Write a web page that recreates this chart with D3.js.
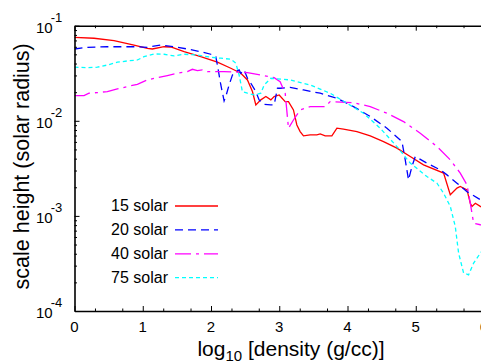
<!DOCTYPE html>
<html lang="en">
<head>
    <meta charset="utf-8">
    <script src="https://d3js.org/d3.v7.min.js"></script>
    <style>
        body { margin: 0; background: white; }
        text { font-family: "Liberation Sans", Arial, sans-serif; fill: black; }
        .axis path, .axis line { stroke: black; }
        .axis path { stroke-width: 1.6px; }
        .curve { fill: none; stroke-width: 1.3px; }
    </style>
</head>
<body>
<div id="chart"></div>
<script>
    // series: [log10 density, scale height in solar radius]
    const solar15 = [[0,0.0755],[0.286,0.0738],[0.579,0.0695],[0.872,0.0626],[1.067,0.0579],[1.141,0.0569],
        [1.312,0.0601],[1.411,0.0597],[1.606,0.0533],[1.850,0.0472],[2.094,0.0413],[2.290,0.0357],[2.437,0.0316],
        [2.534,0.0269],[2.607,0.0203],[2.657,0.0147],[2.730,0.0166],[2.804,0.0180],[2.877,0.0166],[2.925,0.0180],
        [2.999,0.0187],[3.087,0.0159],[3.135,0.0159],[3.208,0.0130],[3.258,0.00905],[3.306,0.00771],[3.355,0.00694],
        [3.453,0.00711],[3.551,0.00711],[3.600,0.00728],[3.673,0.00694],[3.771,0.00694],[3.845,0.00836],[3.941,0.00817],
        [4.138,0.00771],[4.333,0.00694],[4.528,0.00605],[4.724,0.00516],[4.919,0.00421],[5.114,0.00344],[5.408,0.00282],
        [5.506,0.00167],[5.604,0.00196],[5.652,0.00204],[5.751,0.00188],[5.799,0.00136],[5.824,0.00126],[5.873,0.00136],
        [5.946,0.00126],[6.0,0.0012]];
    const solar20 = [[0,0.0569],[0.188,0.0593],[0.481,0.0601],[0.872,0.0601],[1.067,0.0593],[1.264,0.0626],
        [1.459,0.0601],[1.654,0.0569],[1.850,0.0533],[1.997,0.0501],[2.070,0.0472],[2.094,0.0386],[2.144,0.0238],
        [2.192,0.0162],[2.217,0.0180],[2.265,0.0238],[2.314,0.0303],[2.364,0.0329],[2.412,0.0343],[2.437,0.0316],
        [2.485,0.0343],[2.534,0.0280],[2.584,0.0248],[2.657,0.0203],[2.705,0.0166],[2.779,0.0149],[2.877,0.0147],
        [2.925,0.0147],[2.974,0.0220],[3.013,0.0220],[3.160,0.0225],[3.355,0.0211],[3.600,0.0195],[3.845,0.0173],
        [4.088,0.0141],[4.333,0.0111],[4.578,0.00836],[4.798,0.00605],[4.846,0.00388],[4.894,0.00239],[4.944,0.00330],
        [4.993,0.00421],[5.164,0.00359],[5.359,0.00305],[5.457,0.00270],[5.604,0.00221],[5.751,0.00180],[5.946,0.00148],
        [6.0,0.0014]];
    const solar40 = [[0,0.0184],[0.139,0.0184],[0.213,0.0195],[0.334,0.0198],[0.481,0.0203],[0.628,0.0216],
        [0.774,0.0229],[0.921,0.0242],[1.067,0.0269],[1.214,0.0284],[1.361,0.0299],[1.507,0.0316],[1.654,0.0329],
        [1.727,0.0348],[1.801,0.0337],[1.874,0.0343],[1.947,0.0329],[2.192,0.0329],[2.534,0.0321],[2.730,0.0303],
        [2.925,0.0284],[3.013,0.0258],[3.087,0.0195],[3.135,0.00836],[3.208,0.0102],[3.306,0.0130],[3.453,0.0141],
        [3.673,0.0141],[3.746,0.0159],[4.088,0.0155],[4.333,0.0141],[4.578,0.0120],[4.821,0.00982],[5.066,0.00741],
        [5.311,0.00536],[5.506,0.00388],[5.652,0.00282],[5.751,0.00212],[5.799,0.00136],[5.848,0.000839],[5.946,0.000807],
        [6.0,0.0008]];
    const solar75 = [[0,0.0366],[0.188,0.0362],[0.334,0.0366],[0.481,0.0386],[0.628,0.0413],[0.774,0.0426],
        [0.921,0.0436],[1.019,0.0472],[1.166,0.0505],[1.312,0.0501],[1.459,0.0481],[1.606,0.0501],[1.801,0.0492],
        [1.997,0.0466],[2.144,0.0455],[2.290,0.0444],[2.364,0.0403],[2.412,0.0303],[2.460,0.0203],[2.534,0.0195],
        [2.632,0.0187],[2.730,0.0195],[2.779,0.0238],[2.877,0.0280],[3.160,0.0269],[3.453,0.0238],[3.746,0.0195],
        [3.991,0.0153],[4.235,0.0120],[4.479,0.00836],[4.724,0.00536],[4.919,0.00359],[5.164,0.00259],[5.311,0.00221],
        [5.408,0.00173],[5.506,0.00126],[5.579,0.000774],[5.628,0.000406],[5.701,0.000251],[5.774,0.000240],
        [5.848,0.000319],[5.946,0.000406],[6.0,0.00045]];

    const seriesNames = ["15 solar", "20 solar", "40 solar", "75 solar"];
    const seriesData = [solar15, solar20, solar40, solar75];
    const seriesColors = ["#ff0000", "#0000ff", "#ff00ff", "#00ffff"];
    const seriesDash = ["", "8,5", "16,5,3,5", "4,3"];

    const xTicks = [0, 1, 2, 3, 4, 5, 6];
    const yTicks = [1e-4, 1e-3, 1e-2, 1e-1];
    const yTickExp = ["-4", "-3", "-2", "-1"];

    const W = 481, H = 362;
    const plotLeft = 74.5, plotRight = 484, plotTop = 25.7, plotBottom = 311;

    const svg = d3.select("#chart").append("svg")
        .attr("width", W).attr("height", H);

    const x = d3.scaleLinear().domain([0, 6]).range([plotLeft, plotRight]);
    const y = d3.scaleLog().domain([1e-4, 1e-1]).range([plotBottom, plotTop]);

    // minor ticks
    const xMinor = d3.range(0, 6).flatMap(d => [d + 0.3, d + 0.7]);
    const yMinor = [];
    [1e-4, 1e-3, 1e-2].forEach(b => { for (let k = 2; k < 10; k++) yMinor.push(b * k); });

    // clip
    svg.append("clipPath").attr("id", "clip")
        .append("rect").attr("x", plotLeft).attr("y", plotTop)
        .attr("width", plotRight - plotLeft).attr("height", plotBottom - plotTop);

    // curves
    const line = d3.line().x(d => x(d[0])).y(d => y(d[1]));
    const plot = svg.append("g").attr("clip-path", "url(#clip)");
    seriesData.forEach((s, i) => {
        plot.append("path")
            .datum(s)
            .attr("class", "curve")
            .attr("d", line)
            .attr("stroke", seriesColors[i])
            .attr("stroke-dasharray", seriesDash[i]);
    });

    // axes (ticks point inward)
    svg.append("g").attr("class", "axis")
        .attr("transform", `translate(0,${plotBottom})`)
        .call(d3.axisBottom(x).tickValues(xTicks).tickSizeInner(-5).tickSizeOuter(0).tickFormat(""));
    svg.append("g").attr("class", "axis")
        .attr("transform", `translate(0,${plotBottom})`)
        .call(d3.axisBottom(x).tickValues(xMinor).tickSizeInner(-2.5).tickSizeOuter(0).tickFormat(""))
        .select(".domain").remove();
    svg.append("g").attr("class", "axis")
        .attr("transform", `translate(0,${plotTop})`)
        .call(d3.axisTop(x).tickValues(xTicks).tickSizeInner(-5).tickSizeOuter(0).tickFormat(""));
    svg.append("g").attr("class", "axis")
        .attr("transform", `translate(0,${plotTop})`)
        .call(d3.axisTop(x).tickValues(xMinor).tickSizeInner(-2.5).tickSizeOuter(0).tickFormat(""))
        .select(".domain").remove();
    svg.append("g").attr("class", "axis")
        .attr("transform", `translate(${plotLeft},0)`)
        .call(d3.axisLeft(y).tickValues(yTicks).tickSizeInner(-5).tickSizeOuter(0).tickFormat(""));
    svg.append("g").attr("class", "axis")
        .attr("transform", `translate(${plotLeft},0)`)
        .call(d3.axisLeft(y).tickValues(yMinor).tickSizeInner(-2.5).tickSizeOuter(0).tickFormat(""))
        .select(".domain").remove();

    // x tick labels
    svg.append("g").selectAll("text")
        .data(xTicks)
        .join("text")
        .attr("x", d => x(d))
        .attr("y", plotBottom + 21)
        .attr("text-anchor", "middle")
        .style("font-size", "15px")
        .text(d => d);

    // y tick labels: 10 with superscript exponent
    const yl = svg.append("g").selectAll("text")
        .data(yTicks)
        .join("text")
        .attr("x", 36)
        .attr("y", d => y(d) + 7)
        .style("font-size", "15px");
    yl.append("tspan").text("10");
    yl.append("tspan")
        .attr("dx", -2).attr("dy", -11)
        .style("font-size", "13px")
        .text((d, i) => yTickExp[i]);

    // axis titles
    const xt = svg.append("text")
        .attr("x", 291).attr("y", 356)
        .attr("text-anchor", "middle")
        .style("font-size", "21px");
    xt.append("tspan").text("log");
    xt.append("tspan").attr("dy", 5).style("font-size", "15px").text("10");
    xt.append("tspan").attr("dy", -5).text(" [density (g/cc)]");

    svg.append("text")
        .attr("transform", `translate(29,${(plotTop + plotBottom) / 2 - 2}) rotate(-90)`)
        .attr("text-anchor", "middle")
        .style("font-size", "21.5px")
        .text("scale height (solar radius)");

    // legend
    const legend = svg.append("g");
    seriesNames.forEach((name, i) => {
        const ly = 206 + i * 23.9;
        legend.append("text")
            .attr("x", 168).attr("y", ly + 5)
            .attr("text-anchor", "end")
            .style("font-size", "16px")
            .text(name);
        legend.append("line")
            .attr("x1", 175).attr("x2", 218)
            .attr("y1", ly).attr("y2", ly)
            .attr("stroke", seriesColors[i])
            .attr("stroke-width", 1.3)
            .attr("stroke-dasharray", seriesDash[i]);
    });
</script>
</body>
</html>
